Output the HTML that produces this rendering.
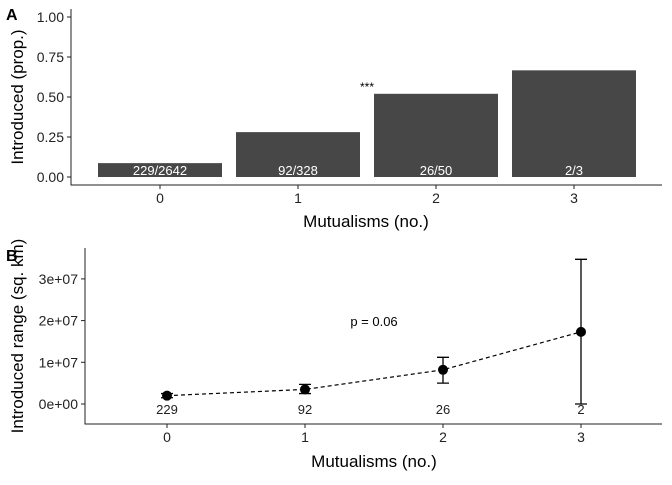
<!DOCTYPE html>
<html><head><meta charset="utf-8"><style>
body{margin:0;background:#fff;width:672px;height:480px;overflow:hidden}
svg text{font-family:"Liberation Sans",Arial,sans-serif}
</style></head><body>
<svg id="c" width="672" height="480" xmlns="http://www.w3.org/2000/svg"></svg>
<script>
const catsA=["0","1","2","3"];
const propA=[229/2642,92/328,26/50,2/3];
const labelsA=["229/2642","92/328","26/50","2/3"];
const ticksA=[0,0.25,0.5,0.75,1.0];
const tickLabA=["0.00","0.25","0.50","0.75","1.00"];
const catsB=["0","1","2","3"];
const meanB=[2.0e6,3.5e6,8.2e6,1.73e7];
const loB=[1.5e6,2.5e6,5.0e6,0];
const hiB=[2.5e6,4.7e6,1.12e7,3.47e7];
const nB=["229","92","26","2"];
const ticksB=[0,1e7,2e7,3e7];
const tickLabB=["0e+00","1e+07","2e+07","3e+07"];

const NS="http://www.w3.org/2000/svg";
const svg=document.getElementById('c');
function el(t,a,txt){const e=document.createElementNS(NS,t);for(const k in a)e.setAttribute(k,a[k]);if(txt!=null)e.textContent=txt;svg.appendChild(e);return e;}

// Panel A
const xA=i=>160+i*138, yA=v=>177-v*160;
let e;
e=el('text',{x:6,y:20,'font-size':16,'font-weight':'bold'},'A');

propA.forEach((v,i)=>{
 e=el('rect',{x:xA(i)-62,y:yA(v),width:124,height:yA(0)-yA(v),fill:'#474747'});
 
 e=el('text',{x:xA(i),y:175,'font-size':13,fill:'#fff','text-anchor':'middle'},labelsA[i]);
 
 e=el('text',{x:xA(i),y:203,'font-size':14,fill:'#222','text-anchor':'middle'},catsA[i]);
 
 el('line',{x1:xA(i),x2:xA(i),y1:185,y2:189,stroke:'#222'});
});
e=el('text',{x:367,y:91,'font-size':12,'text-anchor':'middle'},'***');

ticksA.forEach((v,i)=>{
 el('line',{x1:67,x2:71,y1:yA(v),y2:yA(v),stroke:'#222'});
 e=el('text',{x:64,y:yA(v)+5,'font-size':14,fill:'#222','text-anchor':'end'},tickLabA[i]);
 
});
el('line',{x1:71,x2:71,y1:9,y2:185.5,stroke:'#222'});
el('line',{x1:70.5,x2:662,y1:185,y2:185,stroke:'#222'});
e=el('text',{x:366,y:227,'font-size':17,'text-anchor':'middle'},'Mutualisms (no.)');

e=el('text',{x:0,y:0,'font-size':17,'text-anchor':'middle',transform:'translate(23,97) rotate(-90)'},'Introduced (prop.)');


// Panel B
const xB=i=>167+i*138, yB=v=>404-v*41.7e-7;
e=el('text',{x:6,y:261,'font-size':16,'font-weight':'bold'},'B');

ticksB.forEach((v,i)=>{
 el('line',{x1:81,x2:85,y1:yB(v),y2:yB(v),stroke:'#222'});
 e=el('text',{x:78,y:yB(v)+5,'font-size':14,fill:'#222','text-anchor':'end'},tickLabB[i]);
 
});
el('line',{x1:85,x2:85,y1:248,y2:424.5,stroke:'#222'});
el('line',{x1:84.5,x2:662,y1:424,y2:424,stroke:'#222'});
e=el('path',{d:meanB.map((v,i)=>(i?'L':'M')+xB(i)+' '+yB(v)).join(' '),fill:'none',stroke:'#000','stroke-width':1.2,'stroke-dasharray':'4,3'});

meanB.forEach((v,i)=>{
 const x=xB(i);
 e=el('path',{d:`M${x-6} ${yB(hiB[i])}H${x+6}M${x} ${yB(hiB[i])}V${yB(loB[i])}M${x-6} ${yB(loB[i])}H${x+6}`,stroke:'#000','stroke-width':1.3,fill:'none'});
 
 e=el('circle',{cx:x,cy:yB(v),r:5,fill:'#000'});
 
 e=el('text',{x:x,y:414,'font-size':13,fill:'#222','text-anchor':'middle'},nB[i]);
 
 el('line',{x1:x,x2:x,y1:424,y2:428,stroke:'#222'});
 e=el('text',{x:x,y:442,'font-size':14,fill:'#222','text-anchor':'middle'},catsB[i]);
 
});
e=el('text',{x:374,y:326,'font-size':13,'text-anchor':'middle'},'p = 0.06');

e=el('text',{x:374,y:467,'font-size':17,'text-anchor':'middle'},'Mutualisms (no.)');

e=el('text',{x:0,y:0,'font-size':17,'text-anchor':'middle',transform:'translate(23,336) rotate(-90)'},'Introduced range (sq. km)');

</script>
</body></html>
